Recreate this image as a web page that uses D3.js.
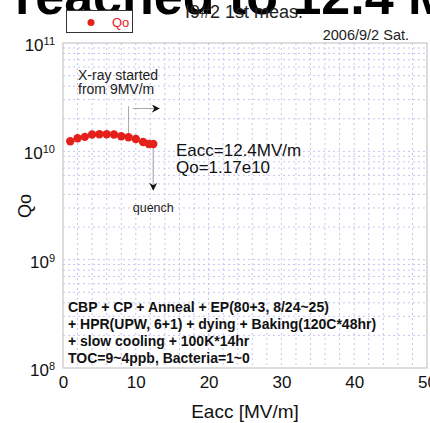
<!DOCTYPE html>
<html>
<head>
<meta charset="utf-8">
<script src="https://cdn.jsdelivr.net/npm/d3@7"></script>
<style>
  html, body { margin: 0; padding: 0; background: #fff; }
  svg { display: block; }
  text { font-family: "Liberation Sans", Arial, sans-serif; }
</style>
</head>
<body>
<svg id="chart" width="430" height="423"></svg>
<script>
// Q0 vs Eacc, vertical test of cavity I9#2 (first measurement)
const eacc = [1.0, 2.0, 3.0, 4.0, 5.0, 6.0, 7.0, 8.0, 9.0, 10.0, 11.0, 11.8, 12.4];
const qo   = [1.24e10, 1.32e10, 1.36e10, 1.43e10, 1.44e10, 1.44e10, 1.43e10,
              1.38e10, 1.35e10, 1.30e10, 1.22e10, 1.17e10, 1.17e10];
const xTicks = [0, 10, 20, 30, 40, 50];
const yDecades = [8, 9, 10, 11];
const recipe = [
  "CBP + CP + Anneal + EP(80+3, 8/24~25)",
  "+ HPR(UPW, 6+1) + dying + Baking(120C*48hr)",
  "+ slow cooling + 100K*14hr",
  "TOC=9~4ppb, Bacteria=1~0"
];

const svg = d3.select("#chart");
const x = d3.scaleLinear().domain([0, 50]).range([63, 427]);
const y = d3.scaleLog().domain([1e8, 1e11]).range([368, 43]);

// headline banner (partly above the page)
svg.append("text").attr("x", 15).attr("y", 14)
  .attr("font-size", 52).attr("font-weight", "bold").attr("fill", "#000")
  .text("reached to 12.4 MV/m");

// title
svg.append("text").attr("x", 185).attr("y", 18)
  .attr("font-size", 18).attr("fill", "#222")
  .text("I9#2 1st meas.");

// legend
svg.append("rect").attr("x", 66.5).attr("y", 10.5).attr("width", 66).attr("height", 22)
  .attr("fill", "#fff").attr("stroke", "#333").attr("stroke-width", 1);
svg.append("circle").attr("cx", 91).attr("cy", 22.5).attr("r", 3.5).attr("fill", "#e5201b");
svg.append("text").attr("x", 112).attr("y", 27).attr("font-size", 13).attr("fill", "#e5201b").text("Qo");

// date
svg.append("text").attr("x", 409).attr("y", 40).attr("text-anchor", "end")
  .attr("font-size", 14.5).attr("fill", "#222").text("2006/9/2 Sat.");

// grid
const grid = svg.append("g");
d3.range(2, 50, 2).forEach(v => {
  grid.append("line").attr("x1", x(v)).attr("x2", x(v)).attr("y1", 43).attr("y2", 368)
    .attr("stroke", "#c6c6ee").attr("stroke-dasharray", "2,3").attr("stroke-width", 1);
});
const minor = [];
[8, 9, 10].forEach(d => { for (let k = 1; k <= 9; k++) minor.push(k * Math.pow(10, d)); });
minor.filter(v => v > 1e8 && v < 1e11).forEach(v => {
  grid.append("line").attr("x1", 63).attr("x2", 427).attr("y1", y(v)).attr("y2", y(v))
    .attr("stroke", "#c6c6ee").attr("stroke-dasharray", "2,3").attr("stroke-width", 1);
});
svg.append("rect").attr("x", 63).attr("y", 43).attr("width", 364).attr("height", 325)
  .attr("fill", "none").attr("stroke", "#bbb").attr("stroke-width", 1);

// axes
const xAxis = svg.append("g").attr("transform", "translate(0,368)")
  .call(d3.axisBottom(x).tickValues(xTicks).tickSize(0).tickPadding(8).tickFormat(d3.format("d")));
xAxis.select(".domain").remove();
xAxis.selectAll("text").attr("font-size", 17).attr("fill", "#111")
  .attr("font-family", "'Liberation Sans', Arial, sans-serif");

const yAxis = svg.append("g").attr("transform", "translate(63,0)")
  .call(d3.axisLeft(y).tickValues(yDecades.map(d => Math.pow(10, d))).tickSize(0).tickFormat(""));
yAxis.select(".domain").remove();
yAxis.selectAll(".tick").each(function (d) {
  const t = d3.select(this).append("text").attr("x", -8).attr("dy", "0.45em")
    .attr("text-anchor", "end").attr("fill", "#111").attr("font-size", 17)
    .attr("font-family", "'Liberation Sans', Arial, sans-serif");
  t.append("tspan").text("10");
  t.append("tspan").attr("dy", "-0.55em").attr("font-size", 11).text(Math.round(Math.log10(d)));
});

svg.append("text").attr("transform", "translate(31,206) rotate(-90)")
  .attr("text-anchor", "middle").attr("font-size", 18).attr("fill", "#111").text("Qo");
svg.append("text").attr("x", 245).attr("y", 418).attr("text-anchor", "middle")
  .attr("font-size", 19).attr("fill", "#111").text("Eacc [MV/m]");

// annotations
svg.append("defs").append("marker").attr("id", "ah").attr("viewBox", "0 0 10 10")
  .attr("refX", 9).attr("refY", 5).attr("markerWidth", 8).attr("markerHeight", 8)
  .attr("orient", "auto").attr("markerUnits", "userSpaceOnUse")
  .append("path").attr("d", "M0,0 L10,5 L0,10 L3,5 Z").attr("fill", "#111");

svg.append("text").attr("x", 78).attr("y", 80).attr("font-size", 14).attr("fill", "#222").text("X-ray started");
svg.append("text").attr("x", 78).attr("y", 94).attr("font-size", 14).attr("fill", "#222").text("from 9MV/m");
svg.append("line").attr("x1", x(9)).attr("x2", x(9)).attr("y1", 106).attr("y2", 135)
  .attr("stroke", "#aaa").attr("stroke-width", 1);
svg.append("line").attr("x1", x(9.6)).attr("x2", x(13.2)).attr("y1", 108.5).attr("y2", 108.5)
  .attr("stroke", "#aaa").attr("stroke-width", 1).attr("marker-end", "url(#ah)");

const last = eacc.length - 1;
svg.append("line").attr("x1", x(eacc[last])).attr("x2", x(eacc[last]))
  .attr("y1", y(qo[last])).attr("y2", 190)
  .attr("stroke", "#bbb").attr("stroke-width", 1.5).attr("marker-end", "url(#ah)");
svg.append("text").attr("x", x(eacc[last])).attr("y", 212).attr("text-anchor", "middle")
  .attr("font-size", 12.5).attr("fill", "#222").text("quench");

svg.append("text").attr("x", 176).attr("y", 156).attr("font-size", 17).attr("fill", "#111")
  .text("Eacc=" + eacc[last] + "MV/m");
svg.append("text").attr("x", 176).attr("y", 173).attr("font-size", 17).attr("fill", "#111")
  .text("Qo=" + (qo[last] / 1e10).toFixed(2) + "e10");

// recipe block
recipe.forEach((s, i) => {
  svg.append("text").attr("x", 68).attr("y", 312 + i * 17).attr("font-size", 14)
    .attr("font-weight", "bold").attr("fill", "#111").text(s);
});

// data points
svg.append("g").selectAll("circle").data(eacc).join("circle")
  .attr("cx", d => x(d)).attr("cy", (d, i) => y(qo[i])).attr("r", 4.2)
  .attr("fill", "#e5201b");
</script>
</body>
</html>
